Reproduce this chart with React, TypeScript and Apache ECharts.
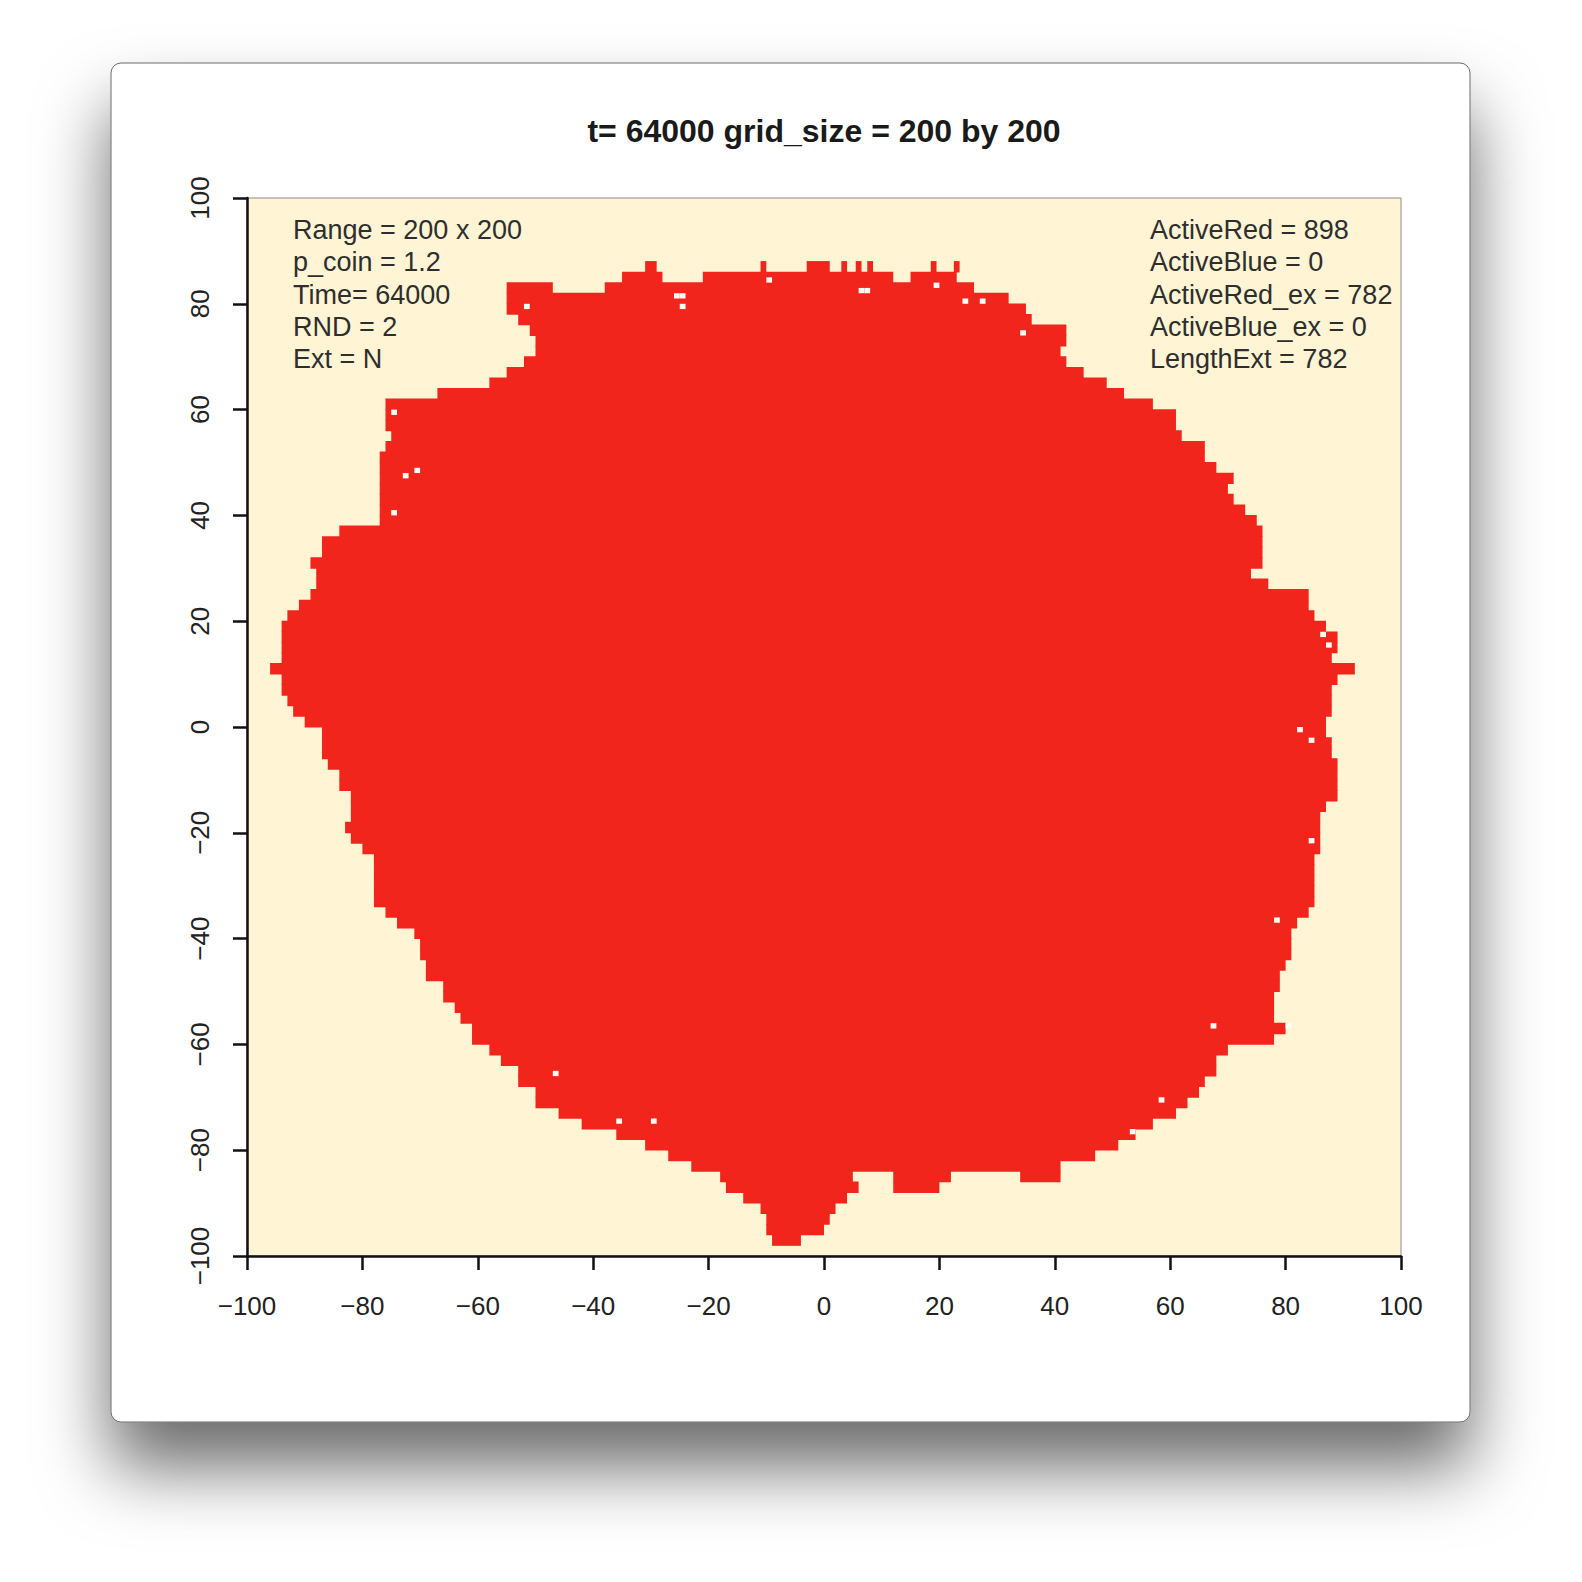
import React, { useEffect, useRef } from "react";
import * as echarts from "echarts";

// ---- chart data ----
const titleText = "t= 64000 grid_size = 200 by 200";
const leftNotes = ["Range = 200 x 200", "p_coin = 1.2", "Time= 64000", "RND = 2", "Ext = N"];
const rightNotes = ["ActiveRed = 898", "ActiveBlue = 0", "ActiveRed_ex = 782", "ActiveBlue_ex = 0", "LengthExt = 782"];

const axisMin = -100;
const axisMax = 100;
const axisStep = 20;

// occupied (red) cells, one row band of height 2 centred on y: [y, xStart, xEnd]
const blobRows: number[][] = [
  [87, -31, -29], [87, -11, -10], [87, -3, 1], [87, 3, 4], [87, 5.5, 6.5], [87, 7.5, 8.5], [87, 18.5, 19.5], [87, 22.5, 23.5],
  [85, -35, -28], [85, -21, 12], [85, 15, 23],
  [83, -55, -47], [83, -38, 26],
  [81, -55, 32],
  [79, -55, 35],
  [77, -53, 36],
  [75, -51, 42],
  [73, -50, 42],
  [71, -50, 41],
  [69, -52, 42],
  [67, -55, 45],
  [65, -58, 49],
  [63, -67, 52],
  [61, -76, 57],
  [59, -76, 61],
  [57, -76, 61],
  [55, -75, 62],
  [53, -76, 66],
  [51, -77, 66],
  [49, -77, 68],
  [47, -77, 71],
  [45, -77, 70],
  [43, -77, 71],
  [41, -77, 73],
  [39, -77, 75],
  [37, -84, 76],
  [35, -87, 76],
  [33, -87, 76],
  [31, -89, 76],
  [29, -88, 74],
  [27, -88, 77],
  [25, -89, 84],
  [23, -91, 84],
  [21, -93, 85],
  [19, -94, 87],
  [17, -94, 89],
  [15, -94, 89],
  [13, -94, 88],
  [11, -96, 92],
  [9, -94, 89],
  [7, -94, 88],
  [5, -93, 88],
  [3, -92, 88],
  [1, -90, 87],
  [-1, -87, 87],
  [-3, -87, 88],
  [-5, -87, 88],
  [-7, -86, 89],
  [-9, -84, 89],
  [-11, -84, 89],
  [-13, -82, 89],
  [-15, -82, 87],
  [-17, -82, 86],
  [-19, -83, 86],
  [-21, -82, 86],
  [-23, -80, 86],
  [-25, -78, 85],
  [-27, -78, 85],
  [-29, -78, 85],
  [-31, -78, 85],
  [-33, -78, 85],
  [-35, -76, 84],
  [-37, -74, 82],
  [-39, -71, 81],
  [-41, -70, 81],
  [-43, -70, 81],
  [-45, -69, 80],
  [-47, -69, 79],
  [-49, -66, 79],
  [-51, -66, 78],
  [-53, -64, 78],
  [-55, -63, 78],
  [-57, -61, 80],
  [-59, -61, 78],
  [-61, -58, 70],
  [-63, -56, 68],
  [-65, -53, 68],
  [-67, -53, 66],
  [-69, -50, 65],
  [-71, -50, 63],
  [-73, -46, 61],
  [-75, -42, 57],
  [-77, -36, 54],
  [-79, -31, 51],
  [-81, -27, 47],
  [-83, -23, 41],
  [-85, -18, 5], [-85, 12, 22], [-85, 34, 41],
  [-87, -17, 6], [-87, 12, 20],
  [-89, -14, 4],
  [-91, -11, 2],
  [-93, -10, 1],
  [-95, -10, 0],
  [-97, -9, -4],
];

// empty cells inside / on the edge of the cluster: [x, y]
const holeCells: number[][] = [
  [-26, 81], [-25, 81], [-25, 79], [-52, 79], [-10, 84], [-75, 59], [-73, 47], [-71, 48],
  [-75, 40], [6, 82], [7, 82], [19, 83], [24, 80], [27, 80], [34, 74], [86, 17], [87, 15],
  [82, -1], [84, -3], [84, -22], [78, -37], [67, -57], [80, -57], [58, -71], [53, -77],
  [-47, -66], [-36, -75], [-30, -75],
];

const RED = "#F1251B";
const CREAM = "#FFF4D3";
const FONT = "'Liberation Sans', Arial, Helvetica, sans-serif";

const fmt = (v: number) => String(v).replace("-", "\u2212");

export default function App() {
  const ref = useRef<HTMLDivElement>(null);

  useEffect(() => {
    if (!ref.current) return;
    const chart = echarts.init(ref.current, undefined, { renderer: "svg" });

    const option: any = {
      animation: false,
      backgroundColor: "#ffffff",
      grid: {
        left: 247,
        top: 198,
        width: 1154,
        height: 1058,
        show: true,
        backgroundColor: CREAM,
        borderColor: "#8c8c8c",
        borderWidth: 1,
        containLabel: false,
      },
      xAxis: {
        type: "value",
        min: axisMin,
        max: axisMax,
        interval: axisStep,
        splitLine: { show: false },
        axisLine: { show: true, onZero: false, lineStyle: { color: "#111", width: 2.5 } },
        axisTick: { show: true, length: 14, lineStyle: { color: "#111", width: 2.5 } },
        axisLabel: {
          margin: 37,
          fontSize: 26,
          color: "#222",
          fontFamily: FONT,
          formatter: fmt,
        },
      },
      yAxis: {
        type: "value",
        min: axisMin,
        max: axisMax,
        interval: axisStep,
        splitLine: { show: false },
        axisLine: { show: true, onZero: false, lineStyle: { color: "#111", width: 2.5 } },
        axisTick: { show: true, length: 14, lineStyle: { color: "#111", width: 2.5 } },
        axisLabel: {
          margin: 34,
          rotate: 90,
          fontSize: 26,
          color: "#222",
          fontFamily: FONT,
          formatter: fmt,
        },
      },
      graphic: [
        {
          type: "rect",
          z: -50,
          silent: true,
          shape: { x: 111, y: 63, width: 1359, height: 1359, r: 10 },
          style: {
            fill: "#ffffff",
            stroke: "#6a6a6a",
            lineWidth: 1,
            shadowBlur: 70,
            shadowOffsetY: 45,
            shadowColor: "rgba(0,0,0,0.58)",
          },
        },
        {
          type: "text",
          z: 50,
          x: 824,
          y: 131,
          style: {
            text: titleText,
            font: `bold 32px ${FONT}`,
            fill: "#1a1a1a",
            textAlign: "center",
            textVerticalAlign: "middle",
          },
        },
        {
          type: "text",
          z: 50,
          x: 293,
          y: 214,
          style: {
            text: leftNotes.join("\n"),
            font: `27px ${FONT}`,
            lineHeight: 32.3,
            fill: "#2e2e2e",
            textAlign: "left",
            textVerticalAlign: "top",
          },
        },
        {
          type: "text",
          z: 50,
          x: 1150,
          y: 214,
          style: {
            text: rightNotes.join("\n"),
            font: `27px ${FONT}`,
            lineHeight: 32.3,
            fill: "#2e2e2e",
            textAlign: "left",
            textVerticalAlign: "top",
          },
        },
      ],
      series: [
        {
          type: "custom",
          silent: true,
          clip: true,
          encode: { x: [1, 2], y: 0 },
          data: blobRows,
          renderItem: (_params: any, api: any) => {
            const y = api.value(0);
            const x0 = api.value(1);
            const x1 = api.value(2);
            const p0 = api.coord([x0, y + 1]);
            const p1 = api.coord([x1, y - 1]);
            return {
              type: "rect",
              shape: {
                x: p0[0],
                y: p0[1] - 0.4,
                width: p1[0] - p0[0],
                height: p1[1] - p0[1] + 0.8,
              },
              style: { fill: RED },
            };
          },
        },
        {
          type: "custom",
          silent: true,
          clip: true,
          z: 3,
          encode: { x: 0, y: 1 },
          data: holeCells,
          renderItem: (_params: any, api: any) => {
            const x = api.value(0);
            const y = api.value(1);
            const p0 = api.coord([x, y + 1]);
            const p1 = api.coord([x + 1, y]);
            return {
              type: "rect",
              shape: { x: p0[0], y: p0[1], width: p1[0] - p0[0], height: p1[1] - p0[1] },
              style: { fill: "#fffdf6" },
            };
          },
        },
      ],
    };

    chart.setOption(option);
    return () => chart.dispose();
  }, []);

  return (
    <div
      ref={ref}
      style={{ position: "fixed", left: 0, top: 0, width: 1582, height: 1582, background: "#fff" }}
    />
  );
}
